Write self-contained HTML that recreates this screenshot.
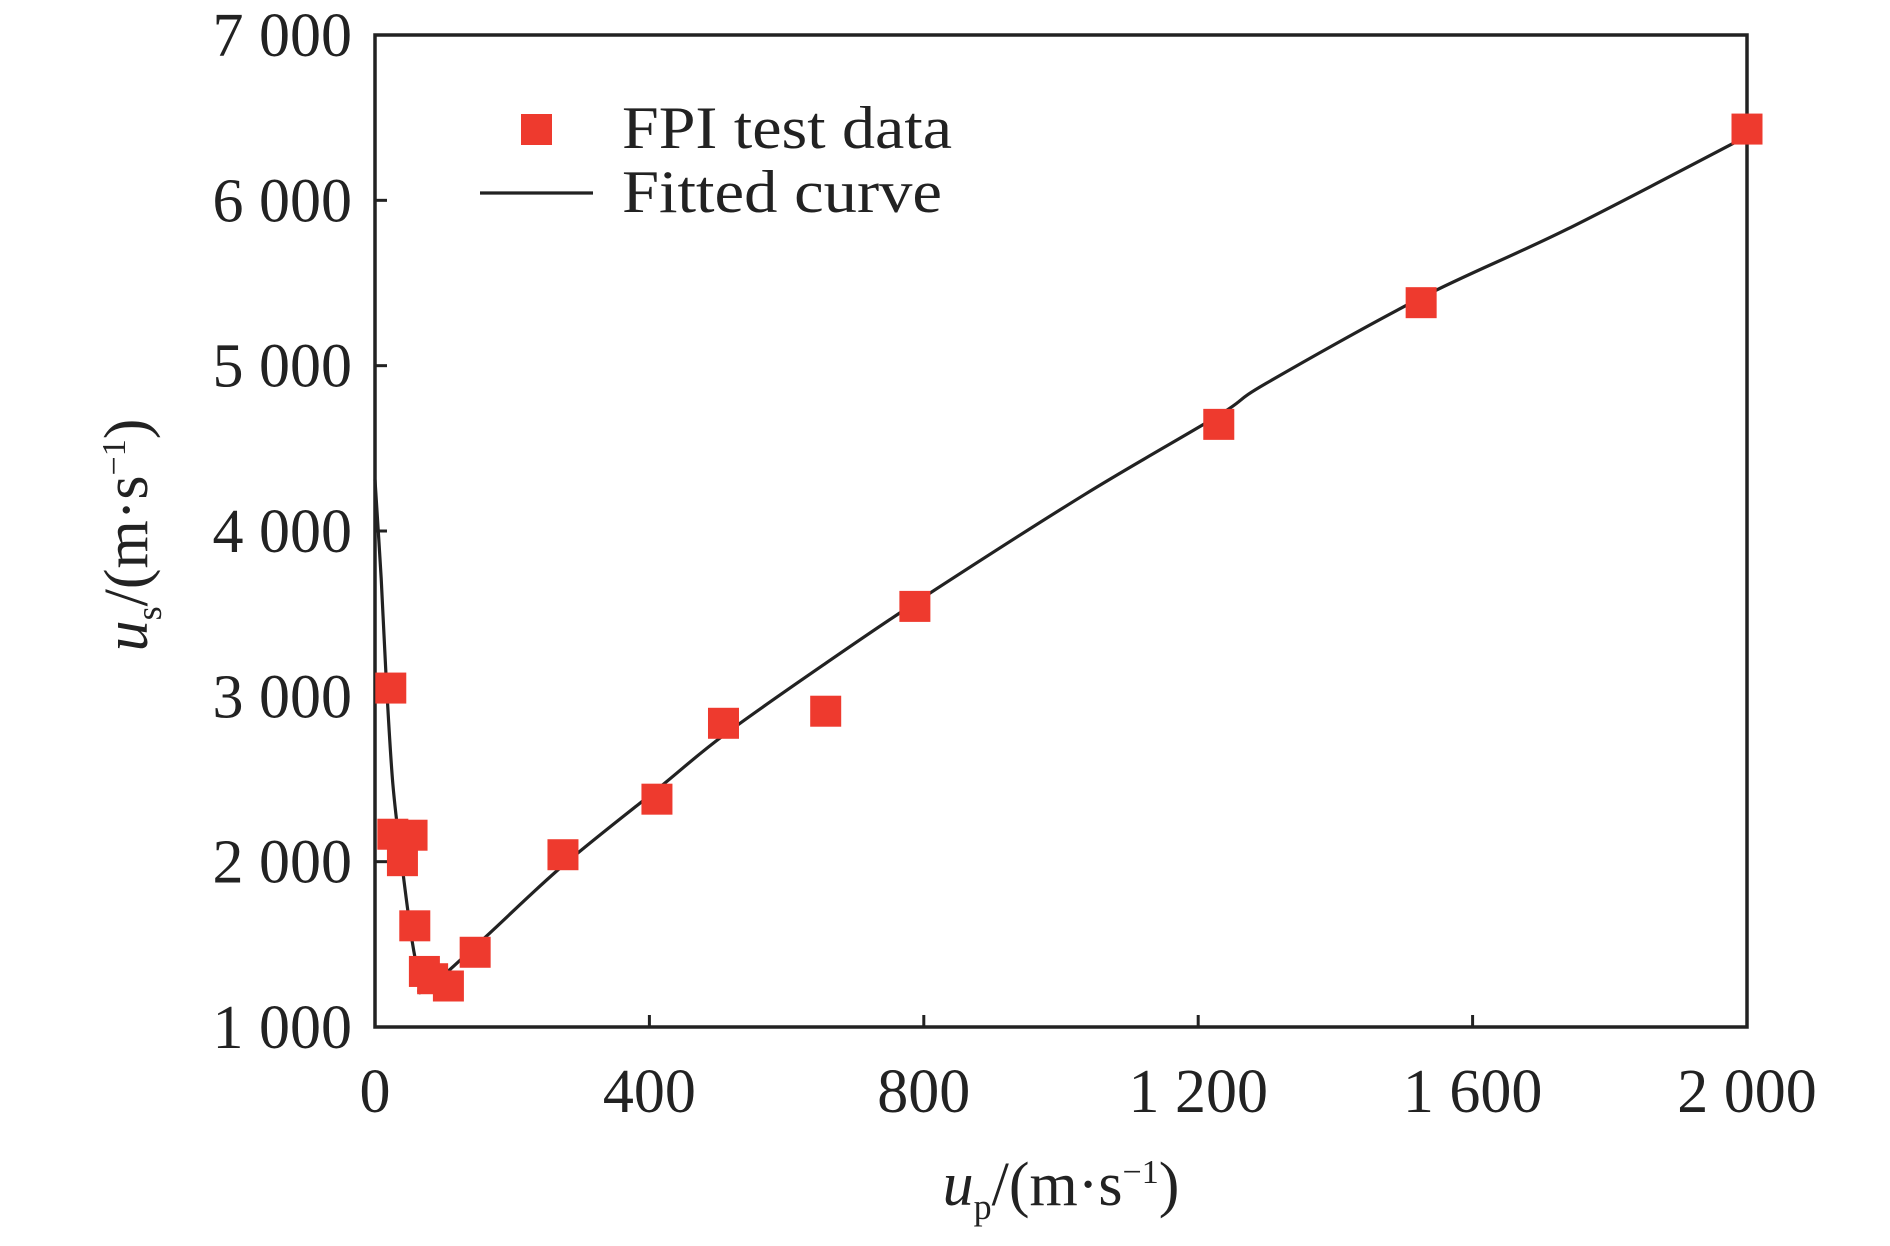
<!DOCTYPE html>
<html><head><meta charset="utf-8"><style>
body{margin:0;background:#fff;}
svg text{font-family:"Liberation Serif",serif;fill:#222;}
</style></head><body>
<svg width="1890" height="1241" viewBox="0 0 1890 1241">
<rect x="375" y="35" width="1372" height="992" fill="none" stroke="#222" stroke-width="3.5"/>
<g id="ticks"></g>
<path id="fit" fill="none" stroke="#222" stroke-width="3.2" stroke-linejoin="round"/>
<g id="pts"></g>
<g>
<rect x="521" y="114" width="31" height="31" fill="#ee3a2e"/>
<text x="622" y="148" font-size="60" textLength="330" lengthAdjust="spacingAndGlyphs">FPI test data</text>
<line x1="480" y1="193" x2="593" y2="193" stroke="#222" stroke-width="3.2"/>
<text x="622" y="212" font-size="60" textLength="320" lengthAdjust="spacingAndGlyphs">Fitted curve</text>
</g>
<text x="1061" y="1205" font-size="62" text-anchor="middle"><tspan font-style="italic">u</tspan><tspan font-size="36" dy="14">p</tspan><tspan dy="-14">/(m·s</tspan><tspan font-size="34" dy="-22">−1</tspan><tspan dy="22">)</tspan></text>
<text transform="translate(147,535) rotate(-90)" font-size="62" text-anchor="middle"><tspan font-style="italic">u</tspan><tspan font-size="36" dy="14">s</tspan><tspan dy="-14">/(m·s</tspan><tspan font-size="34" dy="-22">−1</tspan><tspan dy="22">)</tspan></text>
</svg>
<script>
const xTicks=[0,400,800,1200,1600,2000];
const xTickLabels=["0","400","800","1 200","1 600","2 000"];
const yTicks=[1000,2000,3000,4000,5000,6000,7000];
const yTickLabels=["1 000","2 000","3 000","4 000","5 000","6 000","7 000"];
const dataX=[23,26,54,40,58,72,84,107,146,274,411,508,657,787,1230,1525,2000];
const dataY=[3050,2166,2160,2006,1612,1336,1292,1248,1452,2042,2378,2837,2910,3544,4645,5381,6431];
const fitX=[0,9,16,26,40,54,65,72,156,274,411,508,657,800,1035,1230,1299,1525,1738,2000];
const fitY=[4310,3712,3129,2473,1962,1525,1292,1219,1525,1977,2436,2764,3200,3600,4222,4700,4893,5411,5826,6388];
const NS="http://www.w3.org/2000/svg";
function sx(v){return 375+(v-0)/2000*1372;}
function sy(v){return 1027-(v-1000)/6000*992;}
const tg=document.getElementById('ticks');
xTicks.forEach((t,i)=>{
 const l=document.createElementNS(NS,'line');
 l.setAttribute('x1',sx(t));l.setAttribute('x2',sx(t));l.setAttribute('y1',1027);l.setAttribute('y2',1015);
 l.setAttribute('stroke','#222');l.setAttribute('stroke-width','3');
 
 
 tg.appendChild(l);
 const tx=document.createElementNS(NS,'text');
 tx.setAttribute('x',sx(t));tx.setAttribute('y',1112);tx.setAttribute('font-size','62');tx.setAttribute('text-anchor','middle');
 tx.textContent=xTickLabels[i];
 
 
 tg.appendChild(tx);
});
yTicks.forEach((t,i)=>{
 const l=document.createElementNS(NS,'line');
 l.setAttribute('x1',375);l.setAttribute('x2',387);l.setAttribute('y1',sy(t));l.setAttribute('y2',sy(t));
 l.setAttribute('stroke','#222');l.setAttribute('stroke-width','3');
 
 
 tg.appendChild(l);
 const tx=document.createElementNS(NS,'text');
 tx.setAttribute('x',352);tx.setAttribute('y',sy(t)+21);tx.setAttribute('font-size','62');tx.setAttribute('text-anchor','end');
 tx.textContent=yTickLabels[i];
 
 
 tg.appendChild(tx);
});
const P=fitX.map((x,i)=>[sx(x),sy(fitY[i])]);
let d='M'+P[0][0].toFixed(1)+' '+P[0][1].toFixed(1);
for(let i=0;i<P.length-1;i++){
 const p0=P[Math.max(0,i-1)],p1=P[i],p2=P[i+1],p3=P[Math.min(P.length-1,i+2)];
 const c1=[p1[0]+(p2[0]-p0[0])/6,p1[1]+(p2[1]-p0[1])/6];
 const c2=[p2[0]-(p3[0]-p1[0])/6,p2[1]-(p3[1]-p1[1])/6];
 d+='C'+c1[0].toFixed(1)+' '+c1[1].toFixed(1)+' '+c2[0].toFixed(1)+' '+c2[1].toFixed(1)+' '+p2[0].toFixed(1)+' '+p2[1].toFixed(1);
}
document.getElementById('fit').setAttribute('d',d);
const pg=document.getElementById('pts');
dataX.forEach((x,i)=>{
 const r=document.createElementNS(NS,'rect');
 r.setAttribute('x',sx(x)-15.5);r.setAttribute('y',sy(dataY[i])-15.5);r.setAttribute('width',31);r.setAttribute('height',31);
 r.setAttribute('fill','#ee3a2e');
 
 
 pg.appendChild(r);
});
</script>
</body></html>
